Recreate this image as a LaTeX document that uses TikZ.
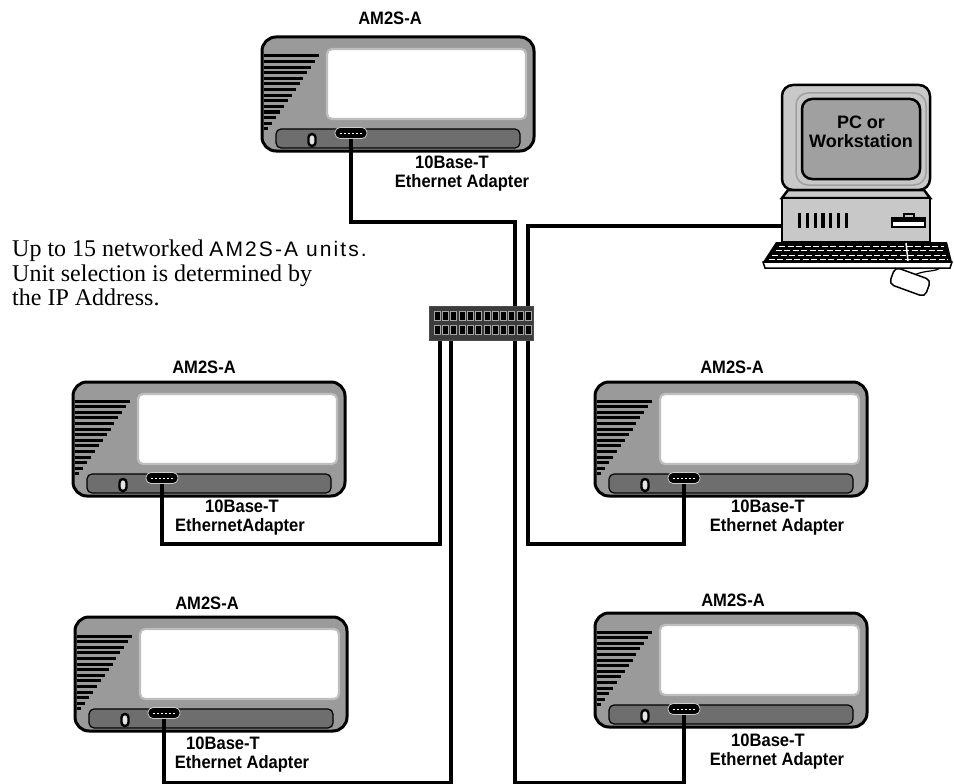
\documentclass[tikz,border=0pt]{standalone}
\usepackage{fontspec}
\setmainfont{Liberation Serif}
\newfontfamily\lblfont{Liberation Sans}[FakeStretch=0.92]
\newfontfamily\pcfont{Liberation Sans}
\newfontfamily\widefont{Liberation Sans}[LetterSpace=10]
\definecolor{bodygray}{HTML}{9A9A9A}
\definecolor{bargray}{HTML}{6E6E6E}
\definecolor{rimgray}{HTML}{BEBEBE}
\definecolor{pcgray}{HTML}{C8C8C8}
\definecolor{pcscreen}{HTML}{A0A0A0}
\definecolor{hubgray}{HTML}{3C3C3C}

% one AM2S-A unit: #1,#2 = top-left corner, #3 = name of its network jack
\newcommand{\amunit}[3]{%
  \begin{scope}[shift={(#1,#2)}]
    \node[unitbody] (#3-body) at (136,57) {};
    \foreach \i in {0,...,13}
      \draw[vent] (1.5,{19+\i*5.6}) -- ({57-\i*3.9},{19+\i*5.6});
    \node[screen] at (164.5,47) {};
    \node[bar] at (136,101.5) {};
    \node[knob] at (50,103) {};
    \node[jack] (#3) at (89,96) {};
    \draw[white,line width=0.8pt,dash pattern=on 2.5pt off 1.5pt]
      ([xshift=5pt]#3.west) -- ([xshift=-5pt]#3.east);
  \end{scope}}

\begin{document}
\begin{tikzpicture}[x=1pt,y=-1pt,
  unitbody/.style={draw=black,line width=3pt,fill=bodygray,rounded corners=14pt,
    minimum width=272pt,minimum height=114pt,inner sep=0pt},
  vent/.style={line width=3pt,black},
  screen/.style={draw=rimgray,line width=2.2pt,fill=white,rounded corners=5pt,
    minimum width=199pt,minimum height=70pt,inner sep=0pt},
  bar/.style={draw=black,line width=1.2pt,fill=bargray,rounded corners=5pt,
    minimum width=244pt,minimum height=19pt,inner sep=0pt},
  knob/.style={draw=black,line width=2.4pt,fill=gray!20,rounded corners=3.5pt,
    minimum width=7pt,minimum height=12pt,inner sep=0pt},
  jack/.style={fill=black,draw=gray!40,line width=0.8pt,rounded corners=5pt,
    minimum width=32pt,minimum height=11pt,inner sep=0pt},
  cable/.style={line width=4pt,black},
  lbl/.style={font=\lblfont\bfseries\fontsize{18}{19}\selectfont,inner sep=0pt,anchor=base},
  note/.style={font=\fontsize{24}{24}\selectfont,inner sep=0pt,anchor=base west},
  pcline/.style={draw=black,line width=2.5pt},
  hubbox/.style={fill=hubgray,draw=gray!60!black,line width=1pt,
    minimum width=104pt,minimum height=34pt,inner sep=0pt},
  hubport/.style={fill=black,draw=gray!70,line width=0.6pt,
    minimum width=6pt,minimum height=9pt,inner sep=0pt}]
\useasboundingbox (0,0) rectangle (954,784);

% ---------- the five AM2S-A units ----------
\amunit{262}{37}{jt}
\amunit{73}{382}{jl}
\amunit{595}{382}{jr}
\amunit{75}{617}{jbl}
\amunit{595}{613}{jbr}

% unit captions
\node[lbl] (t1) at (390,25) {AM2S-A};
\node[lbl] (t2) at (452,168) {10Base-T};
\node[lbl] (t3) at (462,187) {Ethernet Adapter};

\node[lbl] (l1) at (204,373) {AM2S-A};
\node[lbl] (l2) at (242,512) {10Base-T};
\node[lbl] (l3) at (240,531) {EthernetAdapter};

\node[lbl] (r1) at (732,373) {AM2S-A};
\node[lbl] (r2) at (768,512) {10Base-T};
\node[lbl] (r3) at (777,531) {Ethernet Adapter};

\node[lbl] (bl1) at (207,609) {AM2S-A};
\node[lbl] (bl2) at (223,749) {10Base-T};
\node[lbl] (bl3) at (242,768) {Ethernet Adapter};

\node[lbl] (br1) at (733,606) {AM2S-A};
\node[lbl] (br2) at (768,746) {10Base-T};
\node[lbl] (br3) at (777,765) {Ethernet Adapter};

% ---------- note ----------
\node[note] (n1) at (12,256) {Up to 15 networked {\widefont\fontsize{21}{21}\selectfont AM2S-A units.}};
\node[note] (n2) at (12,281) {Unit selection is determined by};
\node[note] (n3) at (12,305) {the IP Address.};

% ---------- PC / workstation ----------
\draw[pcline,fill=pcgray,rounded corners=11pt] (782,85) rectangle (930,190);
\draw[gray!75,line width=1.5pt,rounded corners=12pt] (796,93) rectangle (926,185);
\draw[pcline,fill=pcscreen,rounded corners=10pt] (802,99) rectangle (920,179);
\node[font=\pcfont\bfseries\fontsize{18}{19}\selectfont,align=center,inner sep=0pt]
  (pct) at (861,132) {PC or\\Workstation};
\draw[pcline,fill=pcgray] (788,190) -- (924,190) -- (930,198) -- (782,198) -- cycle;
\node[pcline,fill=pcgray,minimum width=148pt,minimum height=44pt,inner sep=0pt]
  (pc) at (856,220) {};
\foreach \k in {0,...,6}
  \fill (798+\k*7.8,213) rectangle ++(3.2,15);
\draw[line width=1.2pt,fill=pcgray] (904,214) rectangle (914,218);
\draw[line width=1.5pt,fill=white] (892,218) rectangle (925,227);
\fill (892,218) rectangle (925,221.5);
% keyboard
\fill[black] (776,242) -- (947,242) -- (952,262) -- (763,262) -- cycle;
\foreach \r in {0,1,2,3}
  \draw[white,line width=1pt,dash pattern=on 6pt off 2.5pt]
    ({779-\r*3.5},{246+\r*4.5}) -- ({944+\r*1.2},{246+\r*4.5});
\draw[white,line width=1.5pt] (906,243) -- (908,261);
\draw[line width=1.5pt,fill=white] (763,262) -- (952,262) -- (950,268) -- (765,268) -- cycle;
% mouse
\draw[line width=1.2pt] (914,275) .. controls (925,270) and (935,272) .. (940,268);
\draw[line width=1.5pt,fill=white,rounded corners=5pt,rotate around={-20:(910,282)}]
  (891,273) rectangle (929,291);
\coordinate (pcin) at (782,226);

% ---------- cabling ----------
\coordinate (hT1) at (515,306);
\coordinate (hT2) at (528,306);
\coordinate (hB1) at (440,340);
\coordinate (hB2) at (451,340);
\coordinate (hB3) at (515,340);
\coordinate (hB4) at (528,340);

\draw[cable] (jt.south) -- ++(0,83) -| (hT1);
\draw[cable] (hT2) |- (pcin);
\draw[cable] (jl.south) -- ++(0,60) -| (hB1);
\draw[cable] (jr.south) -- ++(0,60) -| (hB4);
\draw[cable] (jbl.south) -- ++(0,64) -| (hB2);
\draw[cable] (jbr.south) -- ++(0,68) -| (hB3);

% ---------- hub ----------
\node[hubbox] (hub) at (481,323) {};
\foreach \p in {0,...,11} {
  \node[hubport] at ({437+\p*8.3},316) {};
  \node[hubport] at ({437+\p*8.3},330) {};
}
\end{tikzpicture}
\end{document}
